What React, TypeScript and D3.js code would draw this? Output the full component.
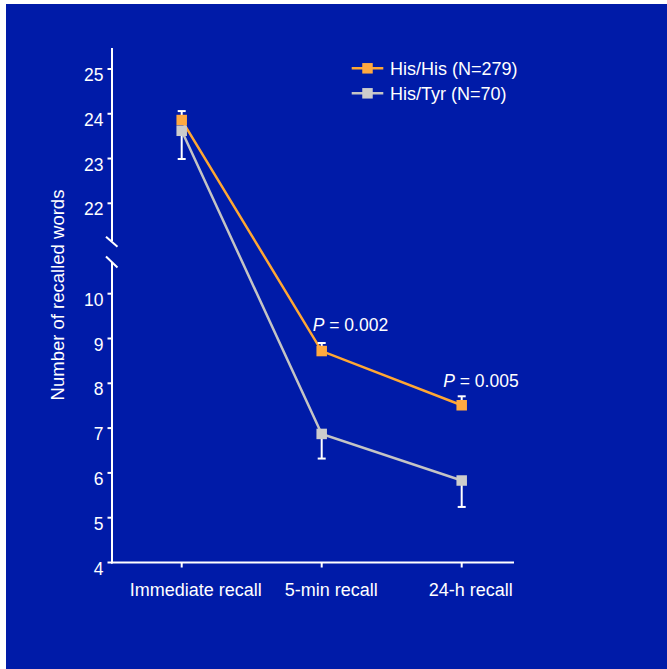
import React from "react";
import * as d3 from "d3";

const categories = ["Immediate recall", "5-min recall", "24-h recall"];
const hisHis = [23.86, 8.72, 7.51];
const hisHisErr = [0.2, 0.18, 0.2];
const hisTyr = [23.62, 6.87, 5.83];
const hisTyrErr = [0.63, 0.55, 0.59];
const lowTicks = [4, 5, 6, 7, 8, 9, 10];
const highTicks = [22, 23, 24, 25];
const pLabels = [
  { idx: 1, text: "0.002", value: 8.72, dx: -9, dy: -20.3 },
  { idx: 2, text: "0.005", value: 7.51, dx: -18.5, dy: -18 },
];
const series = [
  { name: "His/His (N=279)", values: hisHis, err: hisHisErr, dir: -1, line: "#FFA733", fill: "#FFA940" },
  { name: "His/Tyr (N=70)", values: hisTyr, err: hisTyrErr, dir: 1, line: "#C4C4C4", fill: "#CCCCCC" },
];

const W = 667;
const H = 669;
const BG = "#001BA8";
const FONT = "'Liberation Sans', Arial, sans-serif";

export default function App() {
  const x = d3.scalePoint<string>().domain(categories).range([181.7, 461.7]);
  const yLow = d3.scaleLinear().domain([4, 10]).range([562.5, 293.7]);
  const yHigh = d3.scaleLinear().domain([22, 25]).range([203.3, 69.0]);
  const y = (v: number) => (v >= 20 ? yHigh(v) : yLow(v));
  const axisX = 112;
  const axisY = yLow(4);
  const sq = 10.5;

  const line = d3
    .line<number>()
    .x((_, i) => x(categories[i]) as number)
    .y((v) => y(v));

  return (
    <svg width={W} height={H} style={{ position: "absolute", left: 0, top: 0 }} fontFamily={FONT}>
      <rect x={6} y={4} width={W - 6} height={H - 4} fill={BG} />
      {/* y axis */}
      <line x1={axisX} x2={axisX} y1={48} y2={241} stroke="#fff" strokeWidth={2} />
      <line x1={axisX} x2={axisX} y1={262} y2={axisY + 1} stroke="#fff" strokeWidth={2} />
      <line x1={106} y1={236.7} x2={117.5} y2={246.7} stroke="#fff" strokeWidth={2} />
      <line x1={106} y1={256.5} x2={117.5} y2={267.5} stroke="#fff" strokeWidth={2} />
      {lowTicks.map((t) => (
        <g key={"l" + t}>
          <line x1={axisX - 4.5} x2={axisX} y1={yLow(t)} y2={yLow(t)} stroke="#fff" strokeWidth={2} />
          <text x={103.5} y={yLow(t) + 12} textAnchor="end" fontSize={17.5} fill="#fff">
            {t}
          </text>
        </g>
      ))}
      {highTicks.map((t) => (
        <g key={"h" + t}>
          <line x1={axisX - 4.5} x2={axisX} y1={yHigh(t)} y2={yHigh(t)} stroke="#fff" strokeWidth={2} />
          <text x={103.5} y={yHigh(t) + 12} textAnchor="end" fontSize={17.5} fill="#fff">
            {t}
          </text>
        </g>
      ))}
      {/* x axis */}
      <line x1={axisX - 1} x2={514} y1={axisY} y2={axisY} stroke="#fff" strokeWidth={2} />
      {categories.map((c, i) => (
        <g key={c}>
          <line x1={x(c)} x2={x(c)} y1={axisY} y2={axisY + 5} stroke="#fff" strokeWidth={2} />
          <text x={(x(c) as number) + [14, 9.5, 9][i]} y={596} textAnchor="middle" fontSize={18} fill="#fff">
            {c}
          </text>
        </g>
      ))}
      {/* y title */}
      <text transform={`translate(63.5,295) rotate(-90)`} textAnchor="middle" fontSize={18.5} fill="#fff">
        Number of recalled words
      </text>
      {/* lines */}
      {series.map((s) => (
        <path key={s.name + "l"} d={line(s.values) || ""} fill="none" stroke={s.line} strokeWidth={2.5} />
      ))}
      {/* error bars */}
      {series.map((s) =>
        s.values.map((v, i) => {
          const cx = x(categories[i]) as number;
          const y0 = y(v);
          const yEnd = y(v - s.dir * s.err[i]);
          return (
            <g key={s.name + "e" + i}>
              <line x1={cx} x2={cx} y1={y0} y2={yEnd} stroke="#fff" strokeWidth={2} />
              <line x1={cx - 4} x2={cx + 4} y1={yEnd} y2={yEnd} stroke="#fff" strokeWidth={2} />
            </g>
          );
        })
      )}
      {/* markers */}
      {series.map((s) =>
        s.values.map((v, i) => (
          <rect
            key={s.name + "m" + i}
            x={(x(categories[i]) as number) - sq / 2}
            y={y(v) - sq / 2}
            width={sq}
            height={sq}
            fill={s.fill}
          />
        ))
      )}
      {/* P labels */}
      {pLabels.map((p) => (
        <text
          key={p.text}
          x={(x(categories[p.idx]) as number) + p.dx}
          y={y(p.value) + p.dy}
          fontSize={17.5}
          fill="#fff"
        >
          <tspan fontStyle="italic">P</tspan>
          <tspan> = {p.text}</tspan>
        </text>
      ))}
      {/* legend */}
      {series.map((s, i) => {
        const ly = 68.3 + i * 25;
        return (
          <g key={s.name + "lg"}>
            <line x1={351.7} x2={383.3} y1={ly} y2={ly} stroke={s.line} strokeWidth={2.5} />
            <rect x={367.5 - sq / 2} y={ly - sq / 2} width={sq} height={sq} fill={s.fill} />
            <text x={390} y={ly + 6.5} fontSize={18} fill="#fff">
              {s.name}
            </text>
          </g>
        );
      })}
    </svg>
  );
}
